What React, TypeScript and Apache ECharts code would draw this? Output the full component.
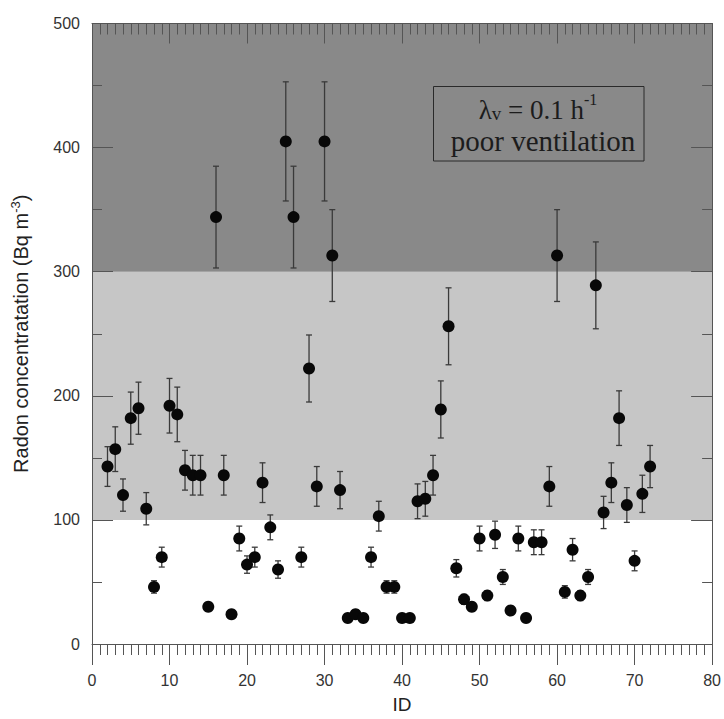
import React, { useEffect, useRef } from "react";
import * as echarts from "echarts";

const ids = [
  2, 3, 4, 5, 6, 7, 8, 9, 10, 11, 12, 13, 14, 15, 16, 17, 18, 19, 20, 21, 22, 23, 24, 25, 26, 27,
  28, 29, 30, 31, 32, 33, 34, 35, 36, 37, 38, 39, 40, 41, 42, 43, 44, 45, 46, 47, 48, 49, 50, 51,
  52, 53, 54, 55, 56, 57, 58, 59, 60, 61, 62, 63, 64, 65, 66, 67, 68, 69, 70, 71, 72,
];
const radon = [
  143, 157, 120, 182, 190, 109, 46, 70, 192, 185, 140, 136, 136, 30, 344, 136, 24, 85, 64, 70,
  130, 94, 60, 405, 344, 70, 222, 127, 405, 313, 124, 21, 24, 21, 70, 103, 46, 46, 21, 21,
  115, 117, 136, 189, 256, 61, 36, 30, 85, 39, 88, 54, 27, 85, 21, 82, 82, 127, 313, 42,
  76, 39, 54, 289, 106, 130, 182, 112, 67, 121, 143,
];
const radonErr = [
  16, 18, 13, 21, 21, 13, 5, 8, 22, 22, 16, 16, 16, 3, 41, 16, 3, 10, 7, 8,
  16, 10, 7, 48, 41, 8, 27, 16, 48, 37, 15, 2, 3, 2, 8, 12, 5, 5, 2, 2,
  14, 14, 16, 23, 31, 7, 4, 3, 10, 4, 11, 6, 3, 10, 2, 10, 10, 16, 37, 5,
  9, 4, 6, 35, 13, 16, 22, 14, 8, 15, 17,
];
const bands = [
  { from: 100, to: 300, color: "#c6c6c6" },
  { from: 300, to: 500, color: "#898989" },
];
const xRange = { min: 0, max: 80, interval: 10 };
const yRange = { min: 0, max: 500, interval: 100 };

export default function App() {
  const ref = useRef<HTMLDivElement>(null);

  useEffect(() => {
    if (!ref.current) return;
    const chart = echarts.init(ref.current, null, { renderer: "svg" });
    const axisColor = "#555";
    const labelFont = "'Liberation Sans', Arial, sans-serif";
    const serif = "'Liberation Serif', 'Times New Roman', serif";

    const xBase = {
      type: "value",
      min: xRange.min,
      max: xRange.max,
      interval: xRange.interval,
      splitLine: { show: false },
      axisLine: { show: true, onZero: false, lineStyle: { color: axisColor, width: 1 } },
      minorTick: { show: true, splitNumber: 10, length: 11, lineStyle: { color: axisColor, width: 1 } },
      z: 10,
    };
    const yBase = {
      type: "value",
      min: yRange.min,
      max: yRange.max,
      interval: yRange.interval,
      splitLine: { show: false },
      axisLine: { show: true, onZero: false, lineStyle: { color: axisColor, width: 1 } },
      axisTick: { show: true, inside: true, length: 21, lineStyle: { color: axisColor, width: 1 } },
      minorTick: { show: true, splitNumber: 2, length: 10, lineStyle: { color: axisColor, width: 1 } },
      z: 10,
    };

    const option: any = {
      animation: false,
      backgroundColor: "#ffffff",
      grid: { left: 92, right: 10, top: 23.5, bottom: 71, containLabel: false },
      xAxis: [
        {
          ...xBase,
          position: "bottom",
          name: "ID",
          nameLocation: "middle",
          nameGap: 51,
          nameTextStyle: { fontFamily: labelFont, fontSize: 19, color: "#222" },
          axisTick: { show: true, inside: false, length: 21, lineStyle: { color: axisColor, width: 1 } },
          axisLabel: { show: true, margin: 28, fontFamily: labelFont, fontSize: 16, color: "#333" },
        },
        {
          ...xBase,
          position: "top",
          axisTick: { show: true, inside: true, length: 20, lineStyle: { color: axisColor, width: 1 } },
          axisLabel: { show: false },
        },
      ],
      yAxis: [
        {
          ...yBase,
          position: "left",
          name: "{a|Radon concentratation (Bq m}{s|-3}{a|)}",
          nameLocation: "middle",
          nameGap: 61,
          nameRotate: 90,
          nameTextStyle: {
            fontFamily: labelFont,
            color: "#222",
            rich: {
              a: { fontFamily: labelFont, fontSize: 20, lineHeight: 22, color: "#222", verticalAlign: "bottom" },
              s: { fontFamily: labelFont, fontSize: 13, lineHeight: 13, color: "#222", verticalAlign: "top" },
            },
          },
          axisLabel: { show: true, margin: 12, fontFamily: labelFont, fontSize: 16, color: "#333" },
        },
        {
          ...yBase,
          position: "right",
          axisLabel: { show: false },
        },
      ],
      series: [
        {
          type: "scatter",
          name: "bands",
          data: [],
          silent: true,
          z: 1,
          markArea: {
            silent: true,
            label: { show: false },
            data: bands.map((b) => [
              { yAxis: b.from, itemStyle: { color: b.color, opacity: 1 } },
              { yAxis: b.to },
            ]),
          },
        },
        {
          type: "custom",
          name: "error",
          z: 3,
          silent: true,
          data: ids.map((id, i) => [id, radon[i] - radonErr[i], radon[i] + radonErr[i]]),
          renderItem: (params: any, api: any) => {
            const x = api.value(0);
            const lo = api.coord([x, api.value(1)]);
            const hi = api.coord([x, api.value(2)]);
            const w = 3;
            const style = { stroke: "#3a3a3a", lineWidth: 1.3 };
            return {
              type: "group",
              children: [
                { type: "line", shape: { x1: hi[0], y1: hi[1], x2: lo[0], y2: lo[1] }, style },
                { type: "line", shape: { x1: hi[0] - w, y1: hi[1], x2: hi[0] + w, y2: hi[1] }, style },
                { type: "line", shape: { x1: lo[0] - w, y1: lo[1], x2: lo[0] + w, y2: lo[1] }, style },
              ],
            };
          },
        },
        {
          type: "scatter",
          name: "radon",
          z: 4,
          symbol: "circle",
          symbolSize: 12,
          itemStyle: { color: "#080808", opacity: 1 },
          data: ids.map((id, i) => [id, radon[i]]),
        },
      ],
      graphic: {
        z: 100,
        elements: [
          {
            type: "rect",
            z: 100,
            shape: { x: 433.5, y: 86.5, width: 210.5, height: 74.5 },
            style: { fill: "transparent", stroke: "#2a2a2a", lineWidth: 1 },
          },
          {
            type: "text",
            z: 101,
            x: 538,
            y: 107,
            style: {
              text: "{a|λ}{b|v}{a| = 0.1 h}{c|-1}",
              align: "center",
              verticalAlign: "middle",
              fill: "#1c1c1c",
              rich: {
                a: { fontFamily: serif, fontSize: 27, lineHeight: 32, fill: "#1c1c1c", verticalAlign: "bottom" },
                b: { fontFamily: serif, fontSize: 19, lineHeight: 19, fill: "#1c1c1c", verticalAlign: "bottom" },
                c: { fontFamily: serif, fontSize: 16, lineHeight: 16, fill: "#1c1c1c", verticalAlign: "top" },
              },
            },
          },
          {
            type: "text",
            z: 101,
            x: 543,
            y: 141,
            style: {
              text: "poor ventilation",
              align: "center",
              verticalAlign: "middle",
              fontFamily: serif,
              fontSize: 29,
              fill: "#1c1c1c",
            },
          },
        ],
      },
    };

    chart.setOption(option);
    return () => chart.dispose();
  }, []);

  return (
    <div
      ref={ref}
      style={{ position: "fixed", left: 0, top: 0, width: 724, height: 719 }}
    />
  );
}
